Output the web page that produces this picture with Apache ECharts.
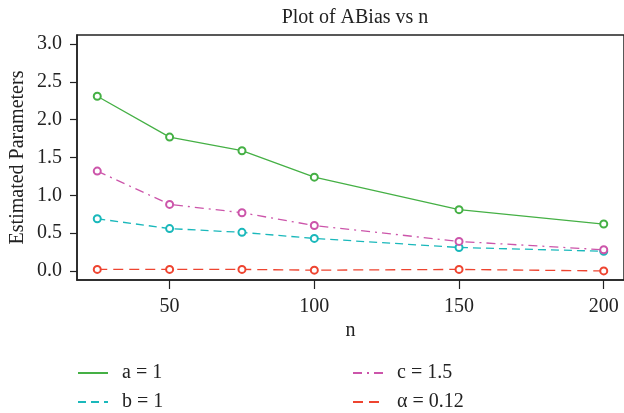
<!DOCTYPE html>
<html>
<head>
<meta charset="utf-8">
<script src="https://cdn.jsdelivr.net/npm/echarts@6/dist/echarts.min.js"></script>
<style>
  html, body { margin: 0; padding: 0; background: #fff; }
  #chart { width: 624px; height: 413px; }
</style>
</head>
<body>
<div id="chart"></div>
<script>
// Sample sizes and average absolute bias of each estimated parameter
const sampleSizes = [25, 50, 75, 100, 150, 200];
const biasA = [2.31, 1.77, 1.59, 1.24, 0.81, 0.62];
const biasB = [0.69, 0.56, 0.51, 0.43, 0.31, 0.26];
const biasC = [1.32, 0.88, 0.77, 0.60, 0.39, 0.28];
const biasAlpha = [0.02, 0.02, 0.02, 0.01, 0.02, 0.0];
const xTicks = [50, 100, 150, 200];
const yTicks = [0, 0.5, 1, 1.5, 2, 2.5, 3];

const FONT = '"Liberation Serif", "DejaVu Serif", serif';
const FS = 20;

function pairs(vals) {
  return sampleSizes.map((n, i) => [n, vals[i]]);
}

function lineSeries(name, vals, color, dash) {
  return {
    name: name,
    type: 'line',
    data: pairs(vals),
    symbol: 'emptyCircle',
    symbolSize: 7,
    showAllSymbol: true,
    lineStyle: { color: color, width: 1.3, type: dash },
    itemStyle: { color: color, borderColor: color, borderWidth: 1.3 },
    emphasis: { disabled: true },
    animation: false
  };
}

const chart = echarts.init(document.getElementById('chart'), null, { renderer: 'canvas' });

const legendCommon = {
  orient: 'vertical',
  top: 363,
  height: 60,
  padding: 0,
  itemWidth: 30,
  itemHeight: 14,
  itemGap: 9,
  itemStyle: { opacity: 0 },
  textStyle: { fontFamily: FONT, fontSize: FS, color: '#222', padding: [0, 0, 0, 9] },
  selectedMode: false
};

chart.setOption({
  backgroundColor: '#fff',
  title: {
    text: 'Plot of ABias vs n',
    left: 350,
    textAlign: 'center',
    top: 3,
    textStyle: { fontFamily: FONT, fontSize: FS, fontWeight: 'normal', color: '#222' }
  },
  grid: {
    left: 77, right: 0, top: 35, bottom: 133,
    outerBoundsMode: 'none',
    containLabel: false,
    show: true, borderColor: '#222', borderWidth: 1.5
  },
  legend: [
    Object.assign({}, legendCommon, { left: 77, data: ['a = 1', 'b = 1'] }),
    Object.assign({}, legendCommon, { left: 352, data: ['c = 1.5', 'α = 0.12'] })
  ],
  xAxis: {
    type: 'value',
    min: 18, max: 207,
    name: 'n',
    nameLocation: 'middle',
    nameGap: 41,
    nameMoveOverlap: false,
    nameTextStyle: { fontFamily: FONT, fontSize: FS, color: '#222' },
    axisLine: { show: true, onZero: false, lineStyle: { color: '#222', width: 1.5 } },
    axisTick: { show: true, length: 9, customValues: xTicks, lineStyle: { color: '#222', width: 1.2 } },
    axisLabel: { customValues: xTicks, margin: 17, fontFamily: FONT, fontSize: FS, color: '#222' },
    splitLine: { show: false }
  },
  yAxis: {
    type: 'value',
    min: -0.12, max: 3.12,
    name: 'Estimated Parameters',
    nameLocation: 'middle',
    nameGap: 49,
    nameMoveOverlap: false,
    nameTextStyle: { fontFamily: FONT, fontSize: FS, color: '#222' },
    axisLine: { show: true, onZero: false, lineStyle: { color: '#222', width: 1.5 } },
    axisTick: { show: true, length: 7, customValues: yTicks, lineStyle: { color: '#222', width: 1.2 } },
    axisLabel: {
      customValues: yTicks, margin: 15, fontFamily: FONT, fontSize: FS, color: '#222',
      formatter: v => v.toFixed(1)
    },
    splitLine: { show: false }
  },
  series: [
    lineSeries('a = 1', biasA, '#45b045', 'solid'),
    lineSeries('b = 1', biasB, '#1ab8bb', [8, 5]),
    lineSeries('c = 1.5', biasC, '#cc55aa', [9, 5, 2, 5]),
    lineSeries('α = 0.12', biasAlpha, '#ee4430', [10, 6])
  ]
});
</script>
</body>
</html>
